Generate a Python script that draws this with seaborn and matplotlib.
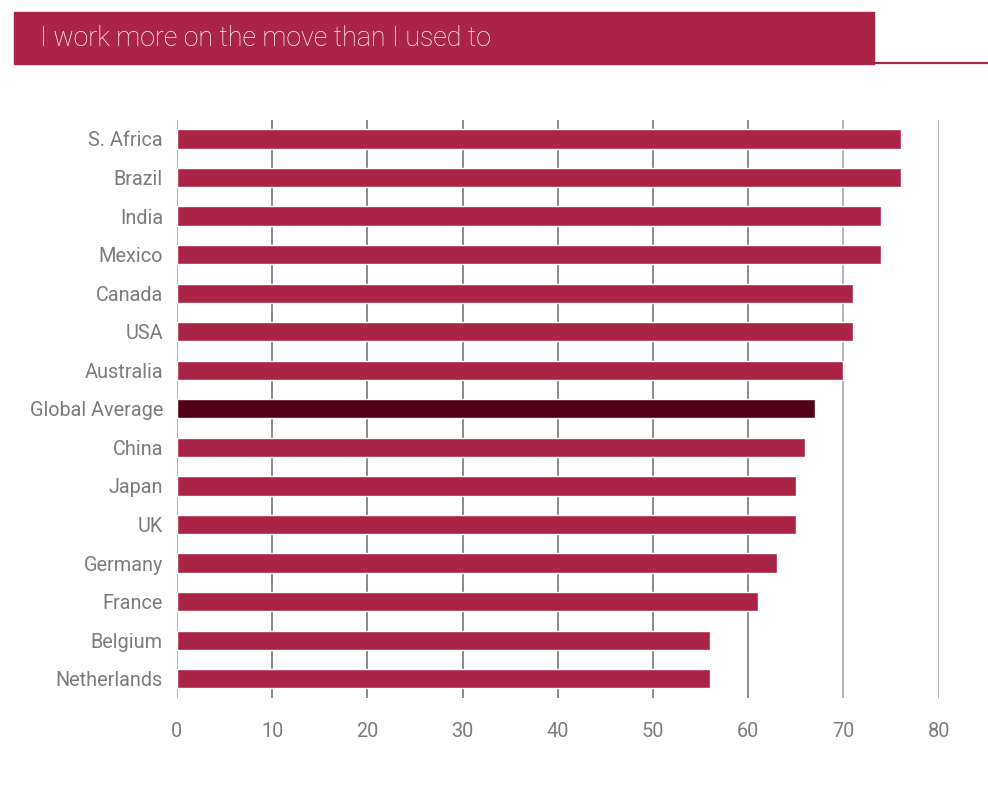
import matplotlib
matplotlib.use("Agg")
import matplotlib.pyplot as plt
import seaborn as sns
import pandas as pd

countries = ["S. Africa", "Brazil", "India", "Mexico", "Canada", "USA", "Australia",
             "Global Average", "China", "Japan", "UK", "Germany", "France",
             "Belgium", "Netherlands"]
values = [76, 76, 74, 74, 71, 71, 70, 67, 66, 65, 65, 63, 61, 56, 56]
x_ticks = [0, 10, 20, 30, 40, 50, 60, 70, 80]
title = "I work more on the move than I used to"

RED = "#AA2545"
DARK = "#520015"
GRID = "#8A8A8A"
GRID_LIGHT = "#B3B3B3"
TEXT = "#7C7C7C"

sns.set_theme(style="white")
plt.rcParams["font.family"] = ["Roboto", "DejaVu Sans"]

df = pd.DataFrame({"country": countries, "value": values})
palette = {c: (DARK if c == "Global Average" else RED) for c in countries}

fig = plt.figure(figsize=(9.88, 8.0), dpi=100)
ax = fig.add_axes([0.179, 0.1275, 0.771, 0.7229])

# vertical reference lines behind the bars
for t in x_ticks:
    ax.axvline(t, color=(GRID_LIGHT if t in (0, 70, 80) else GRID), lw=1.4, zorder=0)

sns.barplot(data=df, y="country", x="value", hue="country", palette=palette,
            order=countries, hue_order=countries, legend=False, width=0.5,
            saturation=1, ax=ax, zorder=2)

ax.set_xlim(0, 80)
ax.set_ylim(len(countries) - 0.5, -0.5)
ax.set_xticks(x_ticks)
ax.set_xticklabels([str(t) for t in x_ticks])
ax.set_xlabel("")
ax.set_ylabel("")
for s in ax.spines.values():
    s.set_visible(False)
ax.tick_params(axis="both", length=0, colors=TEXT, labelsize=14.3)
ax.tick_params(axis="x", pad=17)
ax.tick_params(axis="y", pad=10)
for lbl in ax.get_xticklabels() + ax.get_yticklabels():
    lbl.set_fontweight("normal")
    lbl.set_color(TEXT)

# title banner
fig.patches.append(plt.Rectangle((14 / 988, 1 - 64 / 800), 860 / 988, 52 / 800,
                                  transform=fig.transFigure, color=RED, zorder=0))
fig.lines.append(plt.Line2D([874 / 988, 1.0], [1 - 63 / 800, 1 - 63 / 800],
                            transform=fig.transFigure, color=RED, lw=1.6))
fig.text(40 / 988, 1 - 39 / 800, title, color="white", fontsize=19.3,
         fontweight="light", va="center", ha="left")

fig.savefig("out.png", dpi=100, facecolor="white")
